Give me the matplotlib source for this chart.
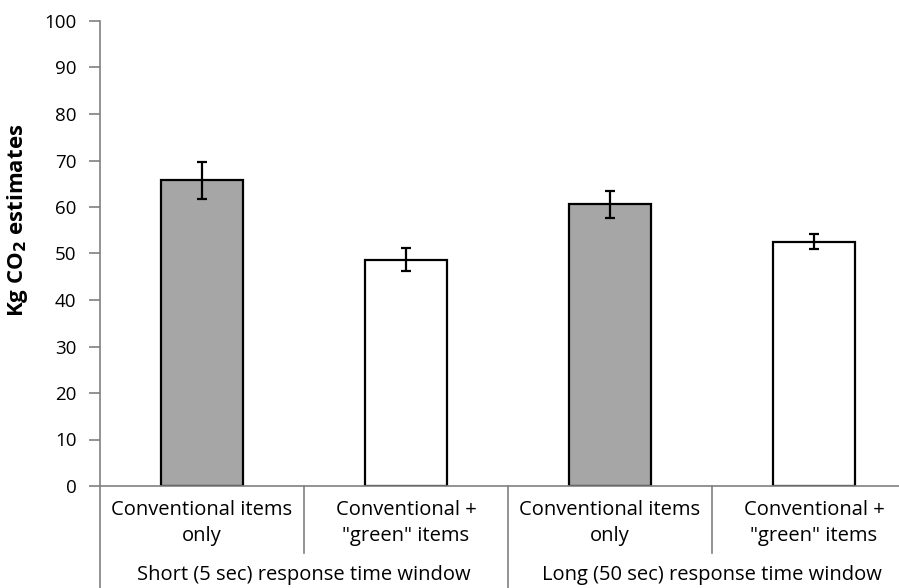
import numpy as np
import matplotlib
matplotlib.use("Agg")
import matplotlib.pyplot as plt

# data
categories = ['Conventional items\nonly', 'Conventional +\n"green" items',
              'Conventional items\nonly', 'Conventional +\n"green" items']
groups = ['Short (5 sec) response time window', 'Long (50 sec) response time window']
means = [65.7, 48.7, 60.6, 52.5]
errors = [4.0, 2.4, 2.9, 1.6]
fills = ['#a6a6a6', 'white', '#a6a6a6', 'white']
yticks = [0, 10, 20, 30, 40, 50, 60, 70, 80, 90, 100]

plt.rcParams['font.family'] = ['Open Sans', 'DejaVu Sans']

W, H = 899, 588
fig = plt.figure(figsize=(W / 100, H / 100), dpi=100)
x0, x1, y0, y1 = 100, 916, 486, 21
ax = fig.add_axes([x0 / W, (H - y0) / H, (x1 - x0) / W, (y0 - y1) / H])

x = np.arange(len(means))
ax.bar(x, means, width=0.4, color=fills, edgecolor='black', linewidth=1.6, zorder=2)
ax.errorbar(x, means, yerr=errors, fmt='none', ecolor='black', elinewidth=1.6,
            capsize=3.8, capthick=1.6, zorder=3)

ax.set_xlim(-0.5, 3.5)
ax.set_ylim(0, 100)
ax.set_yticks(yticks)
ax.set_xticks([])
for s in ['top', 'right']:
    ax.spines[s].set_visible(False)
ax.spines['left'].set_color('#808080')
ax.spines['bottom'].set_color('#808080')
ax.spines['left'].set_linewidth(1.2)
ax.spines['bottom'].set_linewidth(1.2)
ax.tick_params(axis='y', direction='out', length=8, width=1.2, color='#808080',
               labelsize=13.5, pad=9)
ax.set_ylabel('Kg CO$_\\mathbf{2}$ estimates', fontsize=16, fontweight='bold')
ax.yaxis.set_label_coords(-70 / (x1 - x0), (y0 - 220) / (y0 - y1))


def ya(p):
    # pixel row -> axes fraction
    return (y0 - p) / (y0 - y1)


tr = ax.get_xaxis_transform()
for i, lab in enumerate(categories):
    ax.text(x[i], ya(523), lab, transform=tr, ha='center', va='center',
            fontsize=14.5, linespacing=1.35)
for g, lab in enumerate(groups):
    ax.text(2 * g + 0.5, ya(575), lab, transform=tr, ha='center', va='center', fontsize=14.5)

sep_color = '#808080'
for xs in [0.5, 2.5]:
    ax.plot([xs, xs], [ya(y0), ya(553)], transform=tr, color=sep_color, lw=1.2, clip_on=False)
for xs in [-0.5, 1.5, 3.5]:
    ax.plot([xs, xs], [ya(y0), ya(H)], transform=tr, color=sep_color, lw=1.2, clip_on=False)

fig.savefig('out.png', dpi=100)
